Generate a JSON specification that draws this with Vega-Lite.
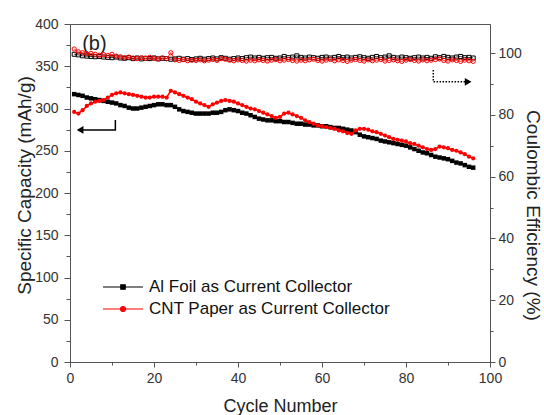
{
  "$schema": "https://vega.github.io/schema/vega-lite/v6.json",
  "width": 420,
  "height": 338,
  "autosize": {"type": "none"},
  "padding": {"left": 70, "top": 24, "right": 54, "bottom": 53},
  "background": "white",
  "config": {
    "view": {"stroke": "#555", "strokeWidth": 1},
    "font": "Liberation Sans",
    "axis": {"grid": false, "domainColor": "#555", "tickColor": "#555", "domainWidth": 1, "tickWidth": 1, "labelFontSize": 14, "labelColor": "#333", "labelFont": "Liberation Sans", "titleFont": "Liberation Sans", "titleColor": "#222", "titleFontWeight": "normal", "labelOverlap": false, "labelFlush": false}
  },
  "datasets": {
    "d": [
      {"c":1,"a":317,"n":296,"ae":99.6,"ne":101.3},{"c":2,"a":316,"n":294,"ae":99.4,"ne":100.4},{"c":3,"a":315,"n":298,"ae":99.1,"ne":100.1},{"c":4,"a":313,"n":303,"ae":99.0,"ne":99.8},{"c":5,"a":312,"n":306,"ae":98.9,"ne":99.9},
      {"c":6,"a":311,"n":308,"ae":98.8,"ne":99.6},{"c":7,"a":310,"n":309,"ae":98.9,"ne":99.3},{"c":8,"a":309,"n":310,"ae":98.7,"ne":99.5},{"c":9,"a":308,"n":313,"ae":98.6,"ne":99.2},{"c":10,"a":307,"n":316,"ae":98.5,"ne":99.6},
      {"c":11,"a":306,"n":318,"ae":98.7,"ne":99.0},{"c":12,"a":304,"n":319,"ae":98.4,"ne":98.8},{"c":13,"a":303,"n":318,"ae":98.3,"ne":98.5},{"c":14,"a":301,"n":317,"ae":98.5,"ne":98.7},{"c":15,"a":300,"n":316,"ae":98.2,"ne":98.4},
      {"c":16,"a":300,"n":315,"ae":98.4,"ne":98.2},{"c":17,"a":301,"n":314,"ae":98.1,"ne":98.5},{"c":18,"a":302,"n":313,"ae":98.3,"ne":98.3},{"c":19,"a":303,"n":313,"ae":98.2,"ne":98.6},{"c":20,"a":304,"n":314,"ae":98.4,"ne":98.3},
      {"c":21,"a":305,"n":314,"ae":98.1,"ne":98.1},{"c":22,"a":305,"n":314,"ae":98.3,"ne":98.4},{"c":23,"a":304,"n":313,"ae":98.2,"ne":98.2},{"c":24,"a":304,"n":321,"ae":98.0,"ne":100.1},{"c":25,"a":302,"n":319,"ae":98.1,"ne":97.8},
      {"c":26,"a":299,"n":317,"ae":98.3,"ne":97.6},{"c":27,"a":297,"n":315,"ae":98.0,"ne":97.9},{"c":28,"a":296,"n":313,"ae":98.2,"ne":97.5},{"c":29,"a":295,"n":311,"ae":97.9,"ne":97.7},{"c":30,"a":294,"n":308,"ae":98.1,"ne":97.6},
      {"c":31,"a":294,"n":306,"ae":98.3,"ne":97.8},{"c":32,"a":294,"n":304,"ae":98.0,"ne":97.5},{"c":33,"a":294,"n":302,"ae":98.2,"ne":97.7},{"c":34,"a":295,"n":305,"ae":98.4,"ne":97.9},{"c":35,"a":295,"n":307,"ae":98.1,"ne":97.6},
      {"c":36,"a":296,"n":309,"ae":98.5,"ne":98.2},{"c":37,"a":298,"n":310,"ae":98.3,"ne":98.0},{"c":38,"a":299,"n":309,"ae":98.0,"ne":97.7},{"c":39,"a":298,"n":308,"ae":98.2,"ne":97.5},{"c":40,"a":297,"n":306,"ae":98.4,"ne":97.8},
      {"c":41,"a":295,"n":304,"ae":98.2,"ne":97.6},{"c":42,"a":294,"n":302,"ae":98.5,"ne":97.4},{"c":43,"a":292,"n":300,"ae":98.7,"ne":97.7},{"c":44,"a":290,"n":299,"ae":98.4,"ne":97.5},{"c":45,"a":288,"n":297,"ae":98.6,"ne":97.8},
      {"c":46,"a":287,"n":295,"ae":98.3,"ne":97.6},{"c":47,"a":286,"n":293,"ae":98.5,"ne":97.4},{"c":48,"a":286,"n":291,"ae":98.6,"ne":97.7},{"c":49,"a":285,"n":289,"ae":98.3,"ne":97.9},{"c":50,"a":285,"n":290,"ae":98.4,"ne":97.5},
      {"c":51,"a":284,"n":294,"ae":98.9,"ne":97.7},{"c":52,"a":284,"n":295,"ae":98.5,"ne":97.9},{"c":53,"a":283,"n":293,"ae":98.7,"ne":97.6},{"c":54,"a":282,"n":291,"ae":99.1,"ne":97.4},{"c":55,"a":282,"n":289,"ae":98.6,"ne":97.7},
      {"c":56,"a":281,"n":286,"ae":98.4,"ne":97.5},{"c":57,"a":281,"n":284,"ae":98.7,"ne":97.8},{"c":58,"a":280,"n":282,"ae":98.5,"ne":98.0},{"c":59,"a":280,"n":280,"ae":98.3,"ne":97.6},{"c":60,"a":279,"n":279,"ae":98.6,"ne":97.4},
      {"c":61,"a":279,"n":278,"ae":98.7,"ne":97.7},{"c":62,"a":278,"n":277,"ae":98.4,"ne":97.9},{"c":63,"a":277,"n":276,"ae":98.6,"ne":97.5},{"c":64,"a":277,"n":274,"ae":98.9,"ne":97.8},{"c":65,"a":276,"n":273,"ae":98.5,"ne":97.6},
      {"c":66,"a":275,"n":271,"ae":98.7,"ne":97.3},{"c":67,"a":274,"n":270,"ae":98.4,"ne":97.7},{"c":68,"a":272,"n":274,"ae":98.6,"ne":97.9},{"c":69,"a":269,"n":276,"ae":98.8,"ne":97.6},{"c":70,"a":267,"n":276,"ae":98.5,"ne":97.4},
      {"c":71,"a":266,"n":275,"ae":98.3,"ne":97.8},{"c":72,"a":265,"n":273,"ae":98.6,"ne":97.5},{"c":73,"a":264,"n":272,"ae":98.9,"ne":97.7},{"c":74,"a":262,"n":270,"ae":98.5,"ne":97.9},{"c":75,"a":261,"n":268,"ae":98.7,"ne":97.4},
      {"c":76,"a":260,"n":266,"ae":99.1,"ne":97.6},{"c":77,"a":259,"n":264,"ae":98.6,"ne":97.8},{"c":78,"a":258,"n":263,"ae":98.4,"ne":97.5},{"c":79,"a":257,"n":262,"ae":98.7,"ne":97.3},{"c":80,"a":256,"n":261,"ae":98.5,"ne":97.7},
      {"c":81,"a":254,"n":259,"ae":98.3,"ne":97.9},{"c":82,"a":252,"n":258,"ae":98.5,"ne":97.6},{"c":83,"a":250,"n":256,"ae":98.7,"ne":97.4},{"c":84,"a":248,"n":254,"ae":98.4,"ne":97.8},{"c":85,"a":247,"n":252,"ae":98.6,"ne":97.5},
      {"c":86,"a":245,"n":251,"ae":98.3,"ne":97.7},{"c":87,"a":243,"n":252,"ae":98.8,"ne":97.9},{"c":88,"a":242,"n":255,"ae":98.5,"ne":98.1},{"c":89,"a":241,"n":254,"ae":98.9,"ne":97.6},{"c":90,"a":240,"n":253,"ae":98.6,"ne":97.4},
      {"c":91,"a":238,"n":251,"ae":98.4,"ne":97.8},{"c":92,"a":236,"n":250,"ae":98.7,"ne":97.6},{"c":93,"a":235,"n":248,"ae":98.9,"ne":97.3},{"c":94,"a":233,"n":246,"ae":98.5,"ne":97.7},{"c":95,"a":231,"n":243,"ae":98.6,"ne":97.5},
      {"c":96,"a":230,"n":241,"ae":98.4,"ne":97.3}
    ],
    "arrL": [{"c":10.8,"v":286.4,"o":1},{"c":10.8,"v":274.6,"o":2},{"c":2.6,"v":274.6,"o":3}],
    "headL": [{"c":2.4,"v":274.6}],
    "arrR": [{"c":86.5,"v":94.5,"o":1},{"c":86.5,"v":90.7,"o":2},{"c":94.3,"v":90.7,"o":3}],
    "headR": [{"c":94.8,"v":90.7}],
    "lab": [{"c":2.9,"v":376,"t":"(b)"}]
  },
  "encoding": {
    "x": {"field": "c", "type": "quantitative", "scale": {"domain": [0, 100], "nice": false},
      "axis": {"title": "Cycle Number", "values": [0,10,20,30,40,50,60,70,80,90,100], "labelExpr": "datum.value % 20 === 0 ? datum.label : ''", "tickSize": {"condition": {"test": "datum.value % 20 === 0", "value": 5}, "value": 3}, "labelPadding": 4, "titleFontSize": 18, "titleBaseline": "alphabetic", "titleY": 49}}
  },
  "layer": [
    {
      "encoding": {
        "y": {"field": "a", "type": "quantitative", "title": "Specific Capacity (mAh/g)", "scale": {"domain": [0, 400], "nice": false},
          "axis": {"orient": "left", "values": [0,25,50,75,100,125,150,175,200,225,250,275,300,325,350,375,400], "labelExpr": "datum.value % 50 === 0 ? datum.label : ''", "tickSize": {"condition": {"test": "datum.value % 50 === 0", "value": 6}, "value": 4}, "labelPadding": 6, "titleX": -40, "titleY": 161, "titleBaseline": "alphabetic", "titleAngle": -90, "titleFontSize": 19}}
      },
      "layer": [
        {
          "data": {"name": "d"},
          "mark": {"type": "line", "strokeWidth": 1.5},
          "encoding": {
            "color": {"datum": "Al Foil as Current Collector", "type": "nominal",
              "scale": {"domain": ["Al Foil as Current Collector", "CNT Paper as Current Collector"], "range": ["black", "red"]},
              "legend": {"title": null, "orient": "none", "legendX": 42, "legendY": 252, "padding": 0, "symbolSize": 400, "rowPadding": 3, "labelOffset": 15, "labelFontSize": 17, "labelFont": "Liberation Sans", "labelColor": "#111", "labelLimit": 400,
                "encode": {"symbols": {"update": {
                  "shape": {"signal": "datum.value === 'Al Foil as Current Collector' ? 'M-2,0H2M-0.22,-0.22H0.22V0.22H-0.22Z' : 'M-2,0H2M0.25,0A0.25,0.25,0,1,1,-0.25,0A0.25,0.25,0,1,1,0.25,0Z'"},
                  "fill": {"signal": "datum.value === 'Al Foil as Current Collector' ? 'black' : 'red'"},
                  "stroke": {"signal": "datum.value === 'Al Foil as Current Collector' ? 'black' : 'red'"},
                  "strokeWidth": {"value": 1.2},
                  "opacity": {"value": 1}, "fillOpacity": {"value": 1}, "strokeOpacity": {"value": 1}}}}}}
          }
        },
        {
          "data": {"name": "d"},
          "mark": {"type": "point", "shape": "square", "filled": true, "size": 20, "opacity": 1},
          "encoding": {
            "color": {"datum": "Al Foil as Current Collector", "type": "nominal"}
          }
        },
        {
          "data": {"name": "d"},
          "mark": {"type": "line", "strokeWidth": 1.5},
          "encoding": {
            "y": {"field": "n", "type": "quantitative", "title": "Specific Capacity (mAh/g)"},
            "color": {"datum": "CNT Paper as Current Collector", "type": "nominal"}
          }
        },
        {
          "data": {"name": "d"},
          "mark": {"type": "point", "shape": "circle", "filled": true, "size": 18, "opacity": 1},
          "encoding": {
            "y": {"field": "n", "type": "quantitative", "title": "Specific Capacity (mAh/g)"},
            "color": {"datum": "CNT Paper as Current Collector", "type": "nominal"}
          }
        },
        {
          "data": {"name": "arrL"},
          "mark": {"type": "line", "strokeWidth": 1.5, "color": "black"},
          "encoding": {
            "y": {"field": "v", "type": "quantitative", "title": "Specific Capacity (mAh/g)"},
            "order": {"field": "o", "type": "quantitative"}
          }
        },
        {
          "data": {"name": "headL"},
          "mark": {"type": "point", "shape": "triangle-left", "filled": true, "size": 60, "color": "black", "opacity": 1},
          "encoding": {
            "y": {"field": "v", "type": "quantitative", "title": "Specific Capacity (mAh/g)"}
          }
        },
        {
          "data": {"name": "lab"},
          "mark": {"type": "text", "align": "left", "baseline": "middle", "fontSize": 20, "font": "Liberation Sans", "color": "#222"},
          "encoding": {
            "y": {"field": "v", "type": "quantitative", "title": "Specific Capacity (mAh/g)"},
            "text": {"field": "t"}
          }
        }
      ]
    },
    {
      "encoding": {
        "y": {"field": "ae", "type": "quantitative", "title": "Coulombic Efficiency (%)", "scale": {"domain": [0, 109.4], "nice": false},
          "axis": {"orient": "right", "values": [0,10,20,30,40,50,60,70,80,90,100], "labelExpr": "datum.value % 20 === 0 ? datum.label : ''", "tickSize": {"condition": {"test": "datum.value % 20 === 0", "value": 5}, "value": 3}, "labelPadding": 3, "titleX": 36.5, "titleY": 191, "titleBaseline": "alphabetic", "titleAngle": 90, "titleFontSize": 19}}
      },
      "layer": [
        {
          "data": {"name": "d"},
          "mark": {"type": "line", "strokeWidth": 0.8, "color": "black"}
        },
        {
          "data": {"name": "d"},
          "mark": {"type": "point", "shape": "square", "filled": false, "size": 16, "strokeWidth": 1, "color": "black", "opacity": 1}
        },
        {
          "data": {"name": "d"},
          "mark": {"type": "line", "strokeWidth": 0.8, "color": "red"},
          "encoding": {
            "y": {"field": "ne", "type": "quantitative", "title": "Coulombic Efficiency (%)"}
          }
        },
        {
          "data": {"name": "d"},
          "mark": {"type": "point", "shape": "circle", "filled": false, "size": 18, "strokeWidth": 1, "color": "red", "opacity": 1},
          "encoding": {
            "y": {"field": "ne", "type": "quantitative", "title": "Coulombic Efficiency (%)"}
          }
        },
        {
          "data": {"name": "arrR"},
          "mark": {"type": "line", "strokeWidth": 1.5, "color": "black", "strokeDash": [1.5, 1.5]},
          "encoding": {
            "y": {"field": "v", "type": "quantitative", "title": "Coulombic Efficiency (%)"},
            "order": {"field": "o", "type": "quantitative"}
          }
        },
        {
          "data": {"name": "headR"},
          "mark": {"type": "point", "shape": "triangle-right", "filled": true, "size": 60, "color": "black", "opacity": 1},
          "encoding": {
            "y": {"field": "v", "type": "quantitative", "title": "Coulombic Efficiency (%)"}
          }
        }
      ]
    }
  ],
  "resolve": {"scale": {"y": "independent"}}
}
